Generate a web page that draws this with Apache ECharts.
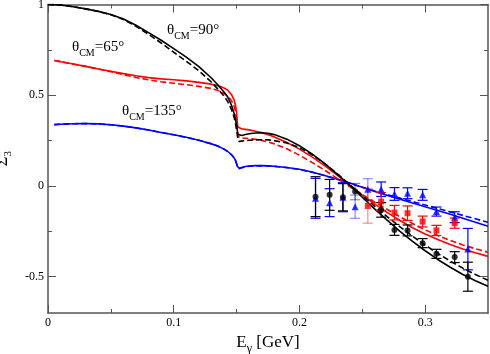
<!DOCTYPE html>
<html>
<head>
<meta charset="utf-8">
<script src="https://cdn.jsdelivr.net/npm/echarts@6/dist/echarts.min.js"></script>
<style>html,body{margin:0;padding:0;background:#fff}#c{width:490px;height:354px}</style>
</head>
<body>
<div id="c"></div>
<script>
// ---------------- data ----------------
const energy = [0, 0.005, 0.01, 0.02, 0.03, 0.04, 0.05, 0.06, 0.07, 0.08,
  0.09, 0.1, 0.11, 0.12, 0.13, 0.135, 0.14, 0.143, 0.146, 0.148,
  0.149, 0.15, 0.1505, 0.151, 0.152, 0.154, 0.157, 0.16, 0.165, 0.17,
  0.175, 0.18, 0.19, 0.2, 0.21, 0.22, 0.23, 0.24, 0.25, 0.26,
  0.27, 0.28, 0.29, 0.3, 0.31, 0.32, 0.33, 0.34, 0.35];
const theta90Solid = [1.0, 0.9995, 0.997, 0.988, 0.976, 0.962, 0.945, 0.92, 0.886, 0.845,
  0.803, 0.757, 0.71, 0.658, 0.595, 0.558, 0.518, 0.49, 0.445, 0.40,
  0.372, 0.335, 0.31, 0.285, 0.275, 0.278, 0.284, 0.288, 0.292, 0.293,
  0.29, 0.283, 0.258, 0.222, 0.177, 0.124, 0.065, 0.003, -0.062, -0.128,
  -0.19, -0.25, -0.305, -0.357, -0.405, -0.448, -0.488, -0.522, -0.553];
const theta90Dashed = [1.0, 0.9995, 0.997, 0.988, 0.976, 0.962, 0.944, 0.917, 0.88, 0.836,
  0.788, 0.737, 0.687, 0.635, 0.572, 0.535, 0.495, 0.465, 0.42, 0.38,
  0.35, 0.31, 0.285, 0.26, 0.245, 0.247, 0.25, 0.252, 0.254, 0.255,
  0.254, 0.25, 0.237, 0.212, 0.172, 0.123, 0.068, 0.008, -0.053, -0.113,
  -0.17, -0.225, -0.277, -0.326, -0.372, -0.414, -0.453, -0.488, -0.52];
const theta65Solid = [null, 0.691, 0.685, 0.672, 0.659, 0.645, 0.632, 0.619, 0.607, 0.597,
  0.59, 0.585, 0.579, 0.571, 0.561, 0.553, 0.54, 0.528, 0.503, 0.475,
  0.45, 0.405, 0.36, 0.325, 0.318, 0.315, 0.312, 0.309, 0.302, 0.294,
  0.283, 0.27, 0.24, 0.203, 0.16, 0.112, 0.06, 0.005, -0.05, -0.1,
  -0.147, -0.19, -0.23, -0.265, -0.295, -0.322, -0.347, -0.368, -0.388];
const theta65Dashed = [null, 0.691, 0.685, 0.672, 0.659, 0.645, 0.63, 0.614, 0.598, 0.585,
  0.574, 0.566, 0.558, 0.549, 0.537, 0.527, 0.51, 0.495, 0.47, 0.44,
  0.415, 0.37, 0.325, 0.285, 0.268, 0.265, 0.263, 0.261, 0.257, 0.251,
  0.243, 0.232, 0.205, 0.17, 0.13, 0.087, 0.042, -0.003, -0.047, -0.09,
  -0.13, -0.17, -0.207, -0.242, -0.273, -0.3, -0.325, -0.346, -0.365];
const theta135Solid = [null, 0.338, 0.34, 0.343, 0.344, 0.342, 0.337, 0.33, 0.32, 0.308,
  0.295, 0.282, 0.268, 0.252, 0.232, 0.22, 0.203, 0.19, 0.172, 0.155,
  0.143, 0.125, 0.11, 0.1, 0.097, 0.102, 0.107, 0.11, 0.112, 0.112,
  0.111, 0.109, 0.102, 0.092, 0.077, 0.058, 0.038, 0.016, -0.007, -0.03,
  -0.052, -0.073, -0.094, -0.114, -0.135, -0.156, -0.178, -0.2, -0.222];
const theta135Dashed = [null, 0.338, 0.34, 0.343, 0.344, 0.342, 0.337, 0.33, 0.32, 0.308,
  0.295, 0.282, 0.268, 0.252, 0.232, 0.22, 0.203, 0.19, 0.172, 0.155,
  0.142, 0.123, 0.108, 0.098, 0.095, 0.1, 0.105, 0.109, 0.111, 0.111,
  0.11, 0.108, 0.101, 0.091, 0.076, 0.057, 0.037, 0.015, -0.007, -0.028,
  -0.048, -0.067, -0.086, -0.105, -0.124, -0.143, -0.162, -0.181, -0.2];

const dataEnergy = [0.2128, 0.224, 0.2346, 0.2443, 0.2544, 0.265, 0.2756, 0.286, 0.298, 0.309, 0.3235, 0.334];
const data90 = [-0.059, -0.049, -0.062, -0.031, null, -0.132, -0.242, -0.245, -0.315, -0.374, -0.392, -0.50];
const err90 = [0.11, 0.085, 0.075, 0.045, null, 0.04, 0.03, 0.03, 0.025, 0.025, 0.03, 0.08];
const data65 = [null, null, null, null, -0.11, -0.086, -0.147, -0.15, -0.196, -0.245, -0.205, null];
const err65 = [null, null, null, null, 0.095, 0.05, 0.04, 0.04, 0.03, 0.028, 0.028, null];
const data135 = [-0.068, -0.092, -0.062, -0.114, -0.018, -0.018, -0.044, -0.04, -0.049, -0.141, -0.172, -0.348];
const err135 = [0.11, 0.077, 0.08, 0.064, 0.058, 0.04, 0.035, 0.03, 0.03, 0.025, 0.03, 0.114];

const xMajorTicks = [0, 0.1, 0.2, 0.3];
const xMinorTicks = [0.05, 0.15, 0.25];
const yMajorTicks = [-0.5, 0, 0.5, 1];
const yMinorTicks = [-0.25, 0.25, 0.75];
const xRange = [0, 0.35];
const yRange = [-0.7, 1];

// ---------------- chart ----------------
const FONT = "'Liberation Serif', 'Times New Roman', serif";
const AX = '#555';
const chart = echarts.init(document.getElementById('c'), null, {renderer: 'canvas'});

function curve(ys) { return energy.map((x, i) => [x, ys[i]]); }
function pts(ys) { return dataEnergy.map((x, i) => [x, ys[i]]).filter(p => p[1] != null); }
function bars(ys, es) {
  return dataEnergy.map((x, i) => ys[i] == null ? null : [x, ys[i] - es[i], ys[i] + es[i]]).filter(Boolean);
}
function lineSeries(ys, color, dashed) {
  return {
    type: 'line', data: curve(ys), showSymbol: false, symbol: 'none',
    smooth: false, connectNulls: false, z: 2,
    lineStyle: {color: color, width: 1.6, type: dashed ? [6, 3] : 'solid'}
  };
}
function errSeries(ys, es, color) {
  return {
    type: 'custom', data: bars(ys, es), z: 3,
    renderItem: function (params, api) {
      const x = api.value(0);
      const lo = api.coord([x, api.value(1)]);
      const hi = api.coord([x, api.value(2)]);
      const light = x > 0.24 && x < 0.26;
      const st = {stroke: color, lineWidth: 1.2, opacity: light ? 0.45 : 1};
      const w = 5;
      return {
        type: 'group', children: [
          {type: 'line', shape: {x1: lo[0], y1: lo[1], x2: hi[0], y2: hi[1]}, style: st},
          {type: 'line', shape: {x1: lo[0] - w, y1: lo[1], x2: lo[0] + w, y2: lo[1]}, style: st},
          {type: 'line', shape: {x1: hi[0] - w, y1: hi[1], x2: hi[0] + w, y2: hi[1]}, style: st}
        ]
      };
    }
  };
}
function scatterSeries(ys, color, symbol, size) {
  return {type: 'scatter', data: pts(ys), symbol: symbol, symbolSize: size, z: 4,
    itemStyle: {color: color}};
}

function xAx(pos, ticks, len, showLabel, extra) {
  return Object.assign({
    type: 'value', position: pos, min: xRange[0], max: xRange[1],
    axisLine: {show: true, onZero: false, lineStyle: {color: AX, width: 1.5}},
    axisTick: {show: true, inside: true, length: len, customValues: ticks, lineStyle: {color: AX, width: 1}},
    axisLabel: {show: showLabel, customValues: ticks, color: '#000', fontFamily: FONT, fontSize: 12, margin: 4,
      formatter: v => String(v)},
    splitLine: {show: false}
  }, extra || {});
}
function yAx(pos, ticks, len, showLabel, extra) {
  return Object.assign({
    type: 'value', position: pos, min: yRange[0], max: yRange[1],
    axisLine: {show: true, onZero: false, lineStyle: {color: AX, width: 1.5}},
    axisTick: {show: true, inside: true, length: len, customValues: ticks, lineStyle: {color: AX, width: 1}},
    axisLabel: {show: showLabel, customValues: ticks, color: '#000', fontFamily: FONT, fontSize: 12, margin: 4,
      formatter: v => String(v)},
    splitLine: {show: false}
  }, extra || {});
}
const hiddenLine = {show: false, onZero: false};

function lbl(main, sub, rest, x, y) {
  return {
    type: 'text', left: x, top: y, z: 10,
    style: {
      text: '{a|' + main + '}{b|' + sub + '}{a|' + rest + '}',
      rich: {
        a: {fontFamily: FONT, fontSize: 15, lineHeight: 15, verticalAlign: 'top', fill: '#000'},
        b: {fontFamily: FONT, fontSize: 10, lineHeight: 10, verticalAlign: 'top', padding: [8, 0, 0, 0], fill: '#000'}
      }
    }
  };
}

const option = {
  animation: false,
  backgroundColor: '#fff',
  grid: {left: 48, right: 2, top: 4.5, bottom: 41, containLabel: false, outerBoundsMode: 'none'},
  xAxis: [
    xAx('bottom', xMajorTicks, 8, true, {
      name: '{a|E}{b|γ}{a| [GeV]}', nameLocation: 'middle', nameGap: 10,
      nameTextStyle: {rich: {
        a: {fontFamily: FONT, fontSize: 17, lineHeight: 17, verticalAlign: 'top', color: '#000'},
        b: {fontFamily: FONT, fontSize: 12, lineHeight: 12, verticalAlign: 'top', padding: [9, 0, 0, 0], color: '#000'}
      }}
    }),
    xAx('bottom', xMinorTicks, 4, false, {axisLine: hiddenLine}),
    xAx('top', xMajorTicks, 8, false),
    xAx('top', xMinorTicks, 4, false, {axisLine: hiddenLine})
  ],
  yAxis: [
    yAx('left', yMajorTicks, 8, true, {
      name: '{a|Σ}{b|3}', nameLocation: 'middle', nameGap: 26, nameRotate: 90,
      nameTextStyle: {rich: {
        a: {fontFamily: FONT, fontSize: 17, lineHeight: 17, verticalAlign: 'top', color: '#000'},
        b: {fontFamily: FONT, fontSize: 11, lineHeight: 11, verticalAlign: 'top', padding: [9, 0, 0, 0], color: '#000'}
      }}
    }),
    yAx('left', yMinorTicks, 4, false, {axisLine: hiddenLine}),
    yAx('right', yMajorTicks, 8, false),
    yAx('right', yMinorTicks, 4, false, {axisLine: hiddenLine})
  ],
  series: [
    lineSeries(theta135Dashed, '#0000ff', true),
    lineSeries(theta135Solid, '#0000ff', false),
    lineSeries(theta65Dashed, '#ff0000', true),
    lineSeries(theta65Solid, '#ff0000', false),
    lineSeries(theta90Dashed, '#000000', true),
    lineSeries(theta90Solid, '#000000', false),
    errSeries(data135, err135, '#0000ff'),
    errSeries(data65, err65, '#ff0000'),
    errSeries(data90, err90, '#000000'),
    scatterSeries(data135, '#0000ff', 'triangle', 7),
    scatterSeries(data65, '#ff0000', 'rect', 6),
    scatterSeries(data90, '#000000', 'circle', 6)
  ],
  graphic: [
    lbl('θ', 'CM', '=90°', 167, 23),
    lbl('θ', 'CM', '=65°', 72, 40),
    lbl('θ', 'CM', '=135°', 122, 104)
  ]
};
chart.setOption(option);
</script>
</body>
</html>
